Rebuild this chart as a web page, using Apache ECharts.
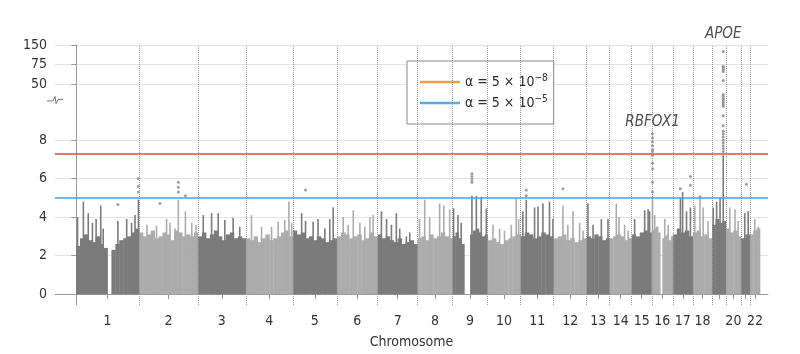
<!DOCTYPE html>
<html lang="en">
<head>
<meta charset="UTF-8">
<title>Manhattan plot</title>
<script src="https://cdn.jsdelivr.net/npm/echarts@6.0.0/dist/echarts.min.js"></script>
<style>
    * { margin: 0; padding: 0; box-sizing: border-box; }
    body { background: #fff; }
    #chart { width: 800px; height: 354px; }
</style>
</head>
<body>
<div id="chart"></div>
<script>
// chromosomes and the span each one covers on the x axis (Mb)
const chromNames = ['1','2','3','4','5','6','7','8','9','10','11','12','13','14','15','16','17','18','19','20','21','22'];
const chromLen = [257, 241, 196, 192, 180, 167, 163, 143, 143, 135, 135, 135, 94, 90, 82, 86, 82, 78, 57, 61, 37, 41];
const skipLabels = ['19', '21'];

// top of the dense part of each chromosome, -log10(P) per equal bin (0 = no SNPs)
const body1 = [2.5, 2.9, 3.1, 2.8, 2.7, 3.0, 2.6, 2.4, 0, 2.3, 2.6, 2.8, 2.9, 3.0, 3.2, 3.4];
const body2 = [3.2, 3.0, 3.1, 3.3, 2.9, 3.0, 3.2, 3.1, 2.8, 3.3, 3.2, 3.0, 3.1, 3.0, 3.2];
const body3 = [3.0, 3.2, 2.9, 3.1, 3.3, 3.0, 2.8, 3.1, 3.2, 2.9, 3.0, 2.9];
const body4 = [2.9, 2.8, 3.0, 2.7, 2.9, 3.1, 2.8, 2.9, 3.0, 3.2, 3.3, 3.0];
const body5 = [3.3, 3.1, 3.2, 2.9, 3.0, 2.8, 3.0, 2.9, 2.7, 2.8, 2.9];
const body6 = [3.0, 3.2, 3.1, 2.9, 3.0, 3.1, 2.8, 2.9, 3.2, 3.0];
const body7 = [3.1, 2.9, 3.0, 2.8, 2.7, 2.9, 2.6, 2.7, 2.8, 2.6];
const body8 = [2.9, 3.0, 2.8, 3.1, 2.9, 3.0, 3.2, 3.0, 2.9];
const body9 = [3.0, 3.2, 2.9, 2.6, 0, 0, 3.1, 3.3, 3.4, 3.2, 3.0, 3.1];
const body10 = [2.8, 2.9, 2.7, 2.6, 2.8, 2.9, 3.0, 3.1];
const body11 = [3.0, 3.2, 3.1, 2.9, 3.0, 3.2, 3.1, 3.0];
const body12 = [2.9, 3.0, 3.1, 2.8, 2.9, 2.7, 2.8, 2.9];
const body13 = [3.0, 2.9, 3.1, 3.0, 2.8, 2.9];
const body14 = [2.9, 3.0, 3.1, 3.0, 2.8, 2.9];
const body15 = [3.1, 3.0, 3.2, 3.3, 3.2];
const body16 = [3.3, 3.4, 3.5, 3.2, 0, 2.9, 3.0, 3.1, 2.8, 3.0];
const body17 = [3.1, 3.4, 3.2, 3.3, 3.0];
const body18 = [3.2, 3.3, 3.0, 3.1, 2.9];
const body19 = [3.6, 3.9, 3.7, 3.8];
const body20 = [3.4, 3.2, 3.3, 3.0];
const body21 = [2.9, 3.1];
const body22 = [3.1, 3.3, 3.4];
const bodyTops = [body1, body2, body3, body4, body5, body6, body7, body8, body9, body10, body11,
    body12, body13, body14, body15, body16, body17, body18, body19, body20, body21, body22];

// narrow columns of SNPs above the dense part: [chromosome, position Mb, -log10(P)]
const spikes = [
    [1,6,4.0],[1,30,4.8],[1,50,4.2],[1,67,3.7],[1,82,3.9],[1,101,4.6],[1,111,3.4],[1,171,3.8],[1,207,3.9],[1,227,3.7],[1,241,4.1],[1,255,4.9],
    [2,33,3.6],[2,72,3.55],[2,113,3.9],[2,127,3.7],[2,147,3.4],[2,161,4.9],[2,190,4.3],[2,216,3.7],[2,233,3.6],
    [3,22,4.1],[3,56,4.2],[3,83,4.2],[3,110,3.85],[3,144,3.95],[3,171,3.5],
    [4,23,4.1],[4,64,3.5],[4,105,3.5],[4,132,3.75],[4,159,3.85],[4,176,4.8],[4,187,3.7],
    [5,36,4.2],[5,52,3.8],[5,83,3.75],[5,103,3.9],[5,131,3.4],[5,151,3.9],[5,165,4.5],
    [6,26,4.0],[6,46,3.6],[6,67,4.35],[6,94,3.7],[6,114,3.5],[6,135,4.0],[6,148,4.1],
    [7,15,4.3],[7,36,3.9],[7,56,3.6],[7,76,4.2],[7,90,3.4],[7,117,3.0],[7,131,3.2],
    [8,8,3.9],[8,29,4.9],[8,49,4.0],[8,90,4.7],[8,107,4.6],[8,131,4.4],
    [9,4,4.45],[9,22,4.1],[9,35,3.7],[9,79,5.1],[9,97,5.1],[9,117,5.05],[9,138,4.45],
    [10,22,3.6],[10,49,3.4],[10,69,3.3],[10,97,3.6],[10,117,4.96],[10,127,3.9],
    [11,9,4.3],[11,23,4.9],[11,57,4.5],[11,71,4.55],[11,91,4.7],[11,118,4.8],[11,132,3.9],
    [12,38,4.6],[12,58,3.6],[12,79,4.3],[12,106,3.7],[12,120,3.3],
    [13,5,4.7],[13,26,3.6],[13,60,3.9],[13,87,3.9],
    [14,27,4.7],[14,38,4.0],[14,61,3.6],[14,75,3.3],
    [15,12,3.9],[15,53,4.35],[15,67,4.4],[15,73,4.3],
    [16,3,5.0],[16,12,4.1],[16,53,3.9],[16,67,3.6],
    [17,31,5.0],[17,40,5.3],[17,56,4.3],[17,72,4.5],
    [18,8,4.6],[18,29,5.0],[18,42,4.5],[18,62,3.8],
    [19,5,4.5],[19,19,4.8],[19,33,5.0],[19,46,7.2],
    [20,16,4.5],[20,37,4.4],[20,50,3.8],
    [21,16,4.2],[21,30,4.3],
    [22,20,3.9],[22,34,3.5]
];

// single SNPs standing out: [chromosome, position Mb, -log10(P)]
const hits = [
    [1,171,4.65],[1,255,5.3],[1,255,5.6],[1,255,6.0],
    [2,86,4.7],[2,161,5.3],[2,161,5.55],[2,161,5.8],[2,190,5.1],
    [5,52,5.4],
    [9,79,5.8],[9,79,5.95],[9,79,6.1],[9,79,6.25],
    [11,23,5.1],[11,23,5.4],
    [12,38,5.47],
    [17,31,5.47],[17,72,5.65],[17,72,6.1],
    [18,29,5.05],
    [21,23,5.7]
];
const rbfox1Hits = [5.3, 5.8, 6.5, 6.8, 7.2, 7.4, 7.5, 7.7, 7.9, 8.1, 8.3];
const apoeHits = [125, 73, 71, 69, 66.5, 55, 26.5, 22, 17, 12.3, 9.95, 9.85, 9.74, 9.25, 8.73,
    8.45, 8.3, 8.15, 8.0, 7.85, 7.7, 7.55, 7.4];
const genes = [['RBFOX1', 16, 3, 8.3], ['APOE', 19, 46, 125]];

const yTicks = [0, 2, 4, 6, 8, 50, 75, 150];
const alpha8 = 7.3;
const alpha5 = 5;

const FONT = "'DejaVu Sans Condensed', 'DejaVu Sans', sans-serif";
const dark = '#7b7b7b';
const light = '#acacac';

// broken y axis: linear up to 10, squeezed above
function yPos(v) {
    if (v <= 10) return v;
    if (v <= 50) return 10 + (v - 10) * 0.87 / 40;
    if (v <= 75) return 10.87 + (v - 50) * 1.03 / 25;
    return 11.9 + (v - 75) * 1.02 / 75;
}

const chromStart = [];
let acc = 0;
chromLen.forEach(function (l) { chromStart.push(acc); acc += l; });
const xMin = -86;
const xMax = acc + 33;
const gpos = function (c, p) { return chromStart[c - 1] + p; };

const bodyData = [];
bodyTops.forEach(function (tops, c) {
    const step = chromLen[c] / tops.length;
    tops.forEach(function (h, i) {
        bodyData.push([chromStart[c] + i * step, chromStart[c] + (i + 1) * step, h, c % 2]);
    });
});
const spikeData = spikes.map(function (s) { return [gpos(s[0], s[1]), yPos(s[2]), (s[0] - 1) % 2]; });
const allHits = hits
    .concat(rbfox1Hits.map(function (v) { return [16, 3, v]; }))
    .concat(apoeHits.map(function (v) { return [19, 46, v]; }));
const hitData = allHits.map(function (h) { return [gpos(h[0], h[1]), yPos(h[2])]; });

const mids = chromStart.map(function (s, i) { return s + chromLen[i] / 2; });
const labelMids = mids.filter(function (m, i) { return skipLabels.indexOf(chromNames[i]) < 0; });
const boundaries = chromStart.slice(1);
const yTickPos = yTicks.map(yPos);

const legendText = {
    a8: 'α = 5 × 10{sup|−8}',
    a5: 'α = 5 × 10{sup|−5}'
};

function drawBin(params, api) {
    const a = api.coord([api.value(0), 0]);
    const b = api.coord([api.value(1), api.value(2)]);
    return {
        type: 'rect',
        shape: { x: a[0], y: b[1], width: b[0] - a[0] + 0.4, height: a[1] - b[1] },
        style: { fill: api.value(3) ? light : dark }
    };
}

function drawSpike(params, api) {
    const a = api.coord([api.value(0), 0]);
    const b = api.coord([api.value(0), api.value(1)]);
    return {
        type: 'rect',
        shape: { x: a[0] - 0.8, y: b[1], width: 1.6, height: a[1] - b[1] },
        style: { fill: api.value(2) ? light : dark }
    };
}

const chart = echarts.init(document.getElementById('chart'));
chart.setOption({
    animation: false,
    textStyle: { fontFamily: FONT },
    grid: { left: 55, right: 32, top: 45, bottom: 46 },
    legend: {
        left: 407,
        top: 61,
        orient: 'vertical',
        data: ['a8', 'a5'],
        icon: 'rect',
        itemWidth: 40,
        itemHeight: 2.5,
        itemGap: 3,
        padding: [12, 6, 12, 13],
        borderColor: '#888',
        borderWidth: 1,
        borderRadius: 0,
        backgroundColor: '#fff',
        formatter: function (name) { return legendText[name]; },
        textStyle: {
            fontFamily: FONT,
            fontSize: 14,
            lineHeight: 18,
            color: '#2a2a2a',
            rich: { sup: { fontFamily: FONT, fontSize: 10, color: '#2a2a2a', padding: [0, 0, 8, 0] } }
        }
    },
    xAxis: {
        type: 'value',
        min: xMin,
        max: xMax,
        splitLine: { show: false },
        axisLine: { lineStyle: { color: '#999' } },
        axisTick: { customValues: mids, length: 5, lineStyle: { color: '#999' } },
        axisLabel: {
            customValues: labelMids,
            fontSize: 14,
            color: '#333',
            margin: 9,
            formatter: function (v) {
                const i = mids.findIndex(function (m) { return Math.abs(m - v) < 1e-6; });
                return i >= 0 ? chromNames[i] : '';
            }
        },
        name: 'Chromosome',
        nameLocation: 'middle',
        nameGap: 30,
        nameTextStyle: { fontSize: 14, color: '#333', fontFamily: FONT }
    },
    yAxis: {
        type: 'value',
        min: -0.56,
        max: yPos(150),
        axisLine: { show: true, lineStyle: { color: '#999' } },
        axisTick: { show: true, customValues: yTickPos, length: 5, lineStyle: { color: '#999' } },
        axisLabel: {
            customValues: yTickPos,
            fontSize: 14,
            color: '#333',
            margin: 8,
            formatter: function (v) {
                const i = yTickPos.findIndex(function (t) { return Math.abs(t - v) < 1e-6; });
                return i >= 0 ? String(yTicks[i]) : '';
            }
        },
        splitLine: { show: true, lineStyle: { color: '#e4e4e4' } }
    },
    series: [
        {
            name: 'body',
            type: 'custom',
            renderItem: drawBin,
            encode: { x: [0, 1], y: 2 },
            data: bodyData,
            z: 2
        },
        {
            name: 'spikes',
            type: 'custom',
            renderItem: drawSpike,
            encode: { x: 0, y: 1 },
            data: spikeData,
            z: 3
        },
        {
            name: 'hits',
            type: 'scatter',
            symbolSize: 3,
            itemStyle: { color: '#848484' },
            data: hitData,
            z: 4,
            markLine: {
                silent: true,
                symbol: 'none',
                label: { show: false },
                data: [
                    { yAxis: yPos(alpha8), lineStyle: { color: '#e2474b', width: 1.5, type: 'solid' } },
                    { yAxis: yPos(alpha5), lineStyle: { color: '#4b9fe0', width: 1.5, type: 'solid' } }
                ].concat(boundaries.map(function (b) {
                    return { xAxis: b, lineStyle: { color: '#9a9a9a', width: 1, type: 'dotted' } };
                }))
            }
        },
        {
            name: 'genes',
            type: 'scatter',
            symbolSize: 0,
            data: genes.map(function (g) {
                return {
                    name: g[0],
                    value: [gpos(g[1], g[2]), yPos(g[3])],
                    label: { distance: g[0] === 'APOE' ? 10 : 5 }
                };
            }),
            label: {
                show: true,
                position: 'top',
                formatter: '{b}',
                fontFamily: FONT,
                fontSize: 15,
                fontStyle: 'italic',
                color: '#222'
            },
            z: 5
        },
        { name: 'a8', type: 'line', data: [], symbol: 'none', lineStyle: { color: '#e8a24a', width: 2 }, itemStyle: { color: '#e8a24a' } },
        { name: 'a5', type: 'line', data: [], symbol: 'none', lineStyle: { color: '#5aaae6', width: 2 }, itemStyle: { color: '#5aaae6' } }
    ]
});

// zigzag mark where the y axis is broken
const brk = chart.convertToPixel({ gridIndex: 0 }, [xMin, 10.1]);
chart.setOption({
    graphic: [{
        type: 'polyline',
        x: brk[0],
        y: brk[1],
        shape: { points: [[-8, 1.5], [-2, 1.5], [0, -3], [1, 4], [3, 0], [8, 0]] },
        style: { stroke: '#777', lineWidth: 1, fill: null },
        z: 10
    }]
});
</script>
</body>
</html>
